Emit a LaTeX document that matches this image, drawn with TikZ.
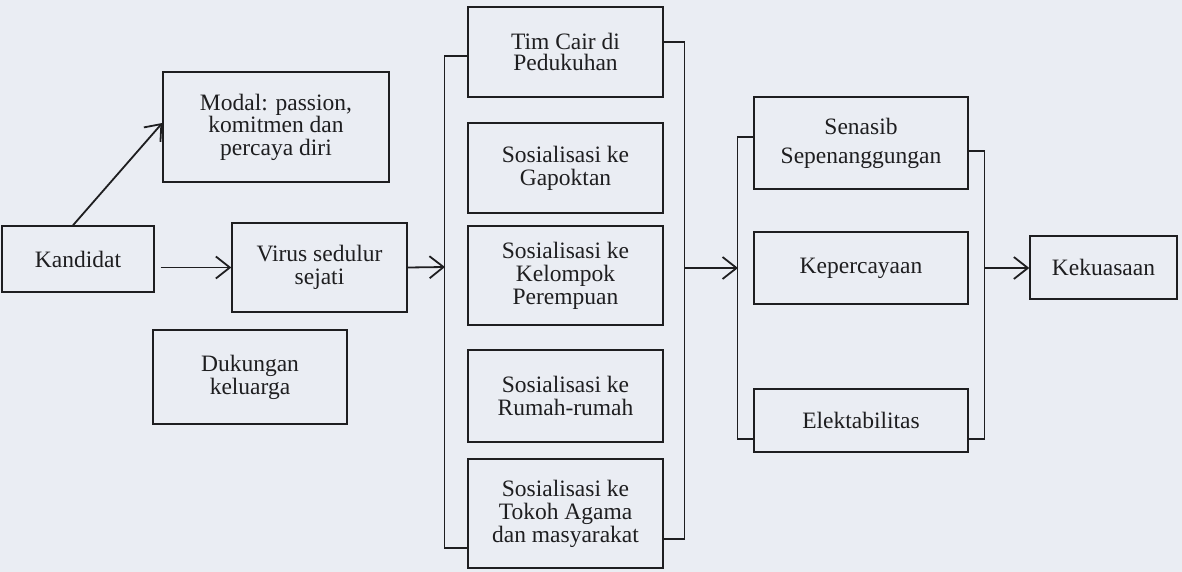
\documentclass[tikz,border=0pt]{standalone}
\usepackage{fontspec}
\setmainfont{Liberation Serif}
\usetikzlibrary{arrows.meta}
\definecolor{paper}{RGB}{234,237,243}
\definecolor{ink}{RGB}{30,30,32}
\tikzset{
  box/.style={draw=ink, line width=1.4pt, text=ink, align=center, inner sep=0pt,
    font=\fontsize{23.5}{23}\selectfont},
  arr/.style={draw=ink, line width=1.8pt, -{Straight Barb[length=14pt,width=22pt,line width=1.8pt]}},
  brk/.style={draw=ink, line width=1.2pt},
}
\begin{document}
\begin{tikzpicture}[x=1pt,y=-1pt]
\fill[paper] (0,0) rectangle (1182,572);
\useasboundingbox (0,0) rectangle (1182,572);
% left part
\node[box, minimum width=152, minimum height=66] (Kan) at (78,259) {Kandidat};
\node[box, minimum width=226, minimum height=110, font=\fontsize{23.5}{22.5}\selectfont] (Mod) at (276,127) {Modal: passion,\\komitmen dan\\percaya diri};
\node[box, minimum width=175, minimum height=89] (Vir) at (319.5,267.5) {Virus sedulur\\sejati};
\node[box, minimum width=194, minimum height=94] (Duk) at (250,377) {Dukungan\\keluarga};
% middle column
\node[box, minimum width=195, minimum height=90, font=\fontsize{23.5}{21.5}\selectfont] (Tim) at (565.5,52) {Tim Cair di\\Pedukuhan};
\node[box, minimum width=195, minimum height=90] (Gap) at (565.5,168) {Sosialisasi ke\\Gapoktan};
\node[box, minimum width=195, minimum height=99] (Kel) at (565.5,275.5) {Sosialisasi ke\\Kelompok\\Perempuan};
\node[box, minimum width=195, minimum height=92] (Rum) at (565.5,396) {Sosialisasi ke\\Rumah-rumah};
\node[box, minimum width=195, minimum height=109] (Tok) at (565.5,513.5) {Sosialisasi ke\\Tokoh Agama\\dan masyarakat};
% right column
\node[box, minimum width=214, minimum height=92, font=\fontsize{23.5}{29}\selectfont] (Sen) at (861,143) {Senasib\\Sepenanggungan};
\node[box, minimum width=214, minimum height=72] (Kep) at (861,268) {Kepercayaan};
\node[box, minimum width=214, minimum height=63] (Ele) at (861,420.5) {Elektabilitas};
\node[box, minimum width=147, minimum height=63] (Kek) at (1103.5,267.5) {Kekuasaan};
% brackets
\draw[brk] ([yshift=-4pt]Tim.west) -- ++(-23,0) |- ([yshift=-34.5pt]Tok.west);
\draw[brk] ([yshift=10pt]Tim.east) -- ++(21,0) |- ([yshift=-25.5pt]Tok.east);
\draw[brk] ([yshift=6pt]Sen.west) -- ++(-16,0) |- ([yshift=-18.5pt]Ele.west);
\draw[brk] ([yshift=-8pt]Sen.east) -- ++(16,0) |- ([yshift=-18.5pt]Ele.east);
\coordinate (L1) at (445,267);
\coordinate (R1) at (684,268);
\coordinate (L2) at (738,268);
\coordinate (R2) at (984,268);
% arrows
\path ([xshift=6pt]Kan.east) coordinate (k1);
\draw[arr] (k1 |- Vir.west) -- (Vir.west);
\draw[arr] ([xshift=-5pt]Kan.north) -- ([yshift=4pt]Mod.west);
\draw[arr] (Vir.east) -- (L1);
\draw[arr] (R1) -- (L2);
\draw[arr] (R2) -- (R2 -| Kek.west);
\end{tikzpicture}
\end{document}
